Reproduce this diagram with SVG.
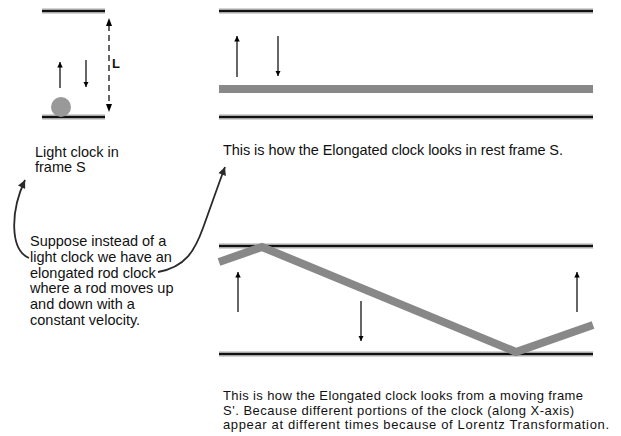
<svg xmlns="http://www.w3.org/2000/svg" width="621" height="436" viewBox="0 0 621 436">
<style>
.pg{stroke:#a8a8a8;stroke-width:5;fill:none}
.pb{stroke:#111;stroke-width:2.2;fill:none}
.rod{stroke:#888;stroke-width:8;fill:none}
.ar{stroke:#000;stroke-width:1.2;fill:none;marker-end:url(#ah)}
.cv{stroke:#2a2a2a;stroke-width:1.8;fill:none;marker-end:url(#ah2)}
text{font-family:"Liberation Sans",Arial,sans-serif;font-size:14.5px;fill:#111}
.sm{font-size:13px}
</style>
<defs>
<marker id="ah" viewBox="0 0 10 10" refX="10" refY="5" markerWidth="5.5" markerHeight="5.5" markerUnits="userSpaceOnUse" orient="auto"><path d="M0,0 L10,5 L0,10 z" fill="#000"/></marker>
<marker id="ah2" viewBox="0 0 10 10" refX="10" refY="5" markerWidth="9" markerHeight="8" markerUnits="userSpaceOnUse" orient="auto"><path d="M0,0 L10,5 L0,10 z" fill="#2a2a2a"/></marker>
</defs>
<g id="light-clock">
<line class="pg" x1="42" y1="11" x2="105" y2="11"/><line class="pb" x1="42" y1="11" x2="105" y2="11"/>
<line class="pg" x1="42" y1="117" x2="105" y2="117"/><line class="pb" x1="42" y1="117" x2="105" y2="117"/>
<circle cx="61" cy="107" r="10" fill="#999"/>
<line class="ar" x1="60" y1="88" x2="60" y2="62"/>
<line class="ar" x1="86" y1="60" x2="86" y2="87"/>
<line x1="109" y1="25" x2="109" y2="106" stroke="#000" stroke-width="1.2" stroke-dasharray="6,4"/>
<path d="M106,26 L109,18 L112,26 z" fill="#000"/>
<path d="M106,104 L109,112 L112,104 z" fill="#000"/>
<text x="112" y="68" style="font-weight:bold;font-size:13px">L</text>
</g>
<g id="rest-clock">
<line class="pg" x1="219" y1="11" x2="593" y2="11"/><line class="pb" x1="219" y1="11" x2="593" y2="11"/>
<line class="rod" x1="219" y1="89" x2="593" y2="89"/>
<line class="pg" x1="219" y1="117" x2="593" y2="117"/><line class="pb" x1="219" y1="117" x2="593" y2="117"/>
<line class="ar" x1="237" y1="77" x2="237" y2="36"/>
<line class="ar" x1="278" y1="36" x2="278" y2="76"/>
</g>
<g id="moving-clock">
<line class="pg" x1="219" y1="246" x2="593" y2="246"/><line class="pb" x1="219" y1="246" x2="593" y2="246"/>
<line class="pg" x1="219" y1="354" x2="593" y2="354"/><line class="pb" x1="219" y1="354" x2="593" y2="354"/>
<polyline class="rod" points="219,262 262,247 516,352 593,325"/>
<line class="ar" x1="238" y1="312" x2="238" y2="272"/>
<line class="ar" x1="361" y1="301" x2="361" y2="341"/>
<line class="ar" x1="577" y1="312" x2="577" y2="272"/>
</g>
<g id="label-light">
<text x="35" y="157">Light clock in</text>
<text x="35" y="172">frame S</text>
</g>
<g id="label-rest">
<text x="223" y="155" textLength="340">This is how the Elongated clock looks in rest frame S.</text>
</g>
<g id="label-suppose">
<text x="30" y="245.7">Suppose instead of a</text>
<text x="30" y="261.6">light clock we have an</text>
<text x="30" y="277.5">elongated rod clock</text>
<text x="30" y="293.4">where a rod moves up</text>
<text x="30" y="309.3">and down with a</text>
<text x="30" y="325.2">constant velocity.</text>
</g>
<g id="label-moving">
<text class="sm" x="223" y="400" textLength="360">This is how the Elongated clock looks from a moving frame</text>
<text class="sm" x="223" y="414.5" textLength="351">S'. Because different portions of the clock (along X-axis)</text>
<text class="sm" x="223" y="429" textLength="386">appear at different times because of Lorentz Transformation.</text>
</g>
<g id="connectors">
<path class="cv" d="M29,258 C10,250 10,212 25,180"/>
<path class="cv" d="M158,272 C186,267 195,250 203,228 S220,180 225,167"/>
</g>
</svg>
